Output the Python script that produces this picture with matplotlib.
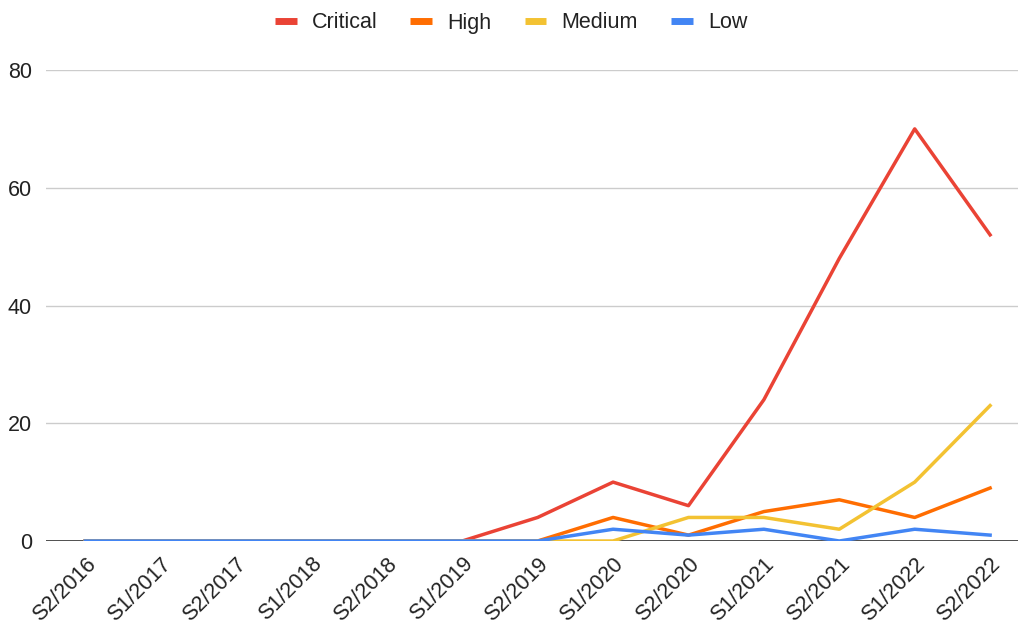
import matplotlib
matplotlib.use("Agg")
import matplotlib.pyplot as plt

plt.rcParams['font.family'] = ['Liberation Sans', 'DejaVu Sans']

periods = ["S2/2016", "S1/2017", "S2/2017", "S1/2018", "S2/2018", "S1/2019",
           "S2/2019", "S1/2020", "S2/2020", "S1/2021", "S2/2021", "S1/2022", "S2/2022"]
critical = [0, 0, 0, 0, 0, 0, 4, 10, 6, 24, 48, 70, 52]
high = [0, 0, 0, 0, 0, 0, 0, 4, 1, 5, 7, 4, 9]
medium = [0, 0, 0, 0, 0, 0, 0, 0, 4, 4, 2, 10, 23]
low = [0, 0, 0, 0, 0, 0, 0, 2, 1, 2, 0, 2, 1]

series = [("Critical", critical, "#ea4335"),
          ("High", high, "#ff6d01"),
          ("Medium", medium, "#f3c232"),
          ("Low", low, "#4285f4")]

FS = 15.5

fig = plt.figure(figsize=(10.18, 6.27), dpi=100)
ax = fig.add_axes([46 / 1018, 86 / 627, 1 - 46 / 1018, 471 / 627])

x = list(range(len(periods)))
for i, (name, vals, col) in enumerate(series):
    ax.plot(x, vals, color=col, lw=2.5, label=name, zorder=3 + i,
            solid_joinstyle='round')

ax.set_ylim(0, 80)
ax.set_xlim(-0.52, 12.37)
ax.set_yticks([0, 20, 40, 60, 80])
ax.grid(axis='y', color='#cccccc', lw=1)
ax.axhline(0, color='#333333', lw=1.2, zorder=2)
ax.set_axisbelow(True)
for s in ax.spines.values():
    s.set_visible(False)
ax.tick_params(length=0)
ax.tick_params(axis='y', pad=10, labelsize=FS, labelcolor='#222222')
ax.set_xticks(x)
ax.set_xticklabels(periods, rotation=45, ha='right', rotation_mode='anchor',
                   fontsize=FS, color='#222222')
ax.tick_params(axis='x', pad=9)

leg = fig.legend(loc='center', bbox_to_anchor=(511 / 1018, 1 - 23 / 627), ncol=4,
                 frameon=False, fontsize=FS, handlelength=1.02, handletextpad=0.7,
                 columnspacing=1.53, borderpad=0, borderaxespad=0)
for h in leg.get_lines():
    h.set_linewidth(5)
    h.set_solid_capstyle('butt')
for t in leg.get_texts():
    t.set_color('#222222')

fig.savefig("out.png", dpi=100)
